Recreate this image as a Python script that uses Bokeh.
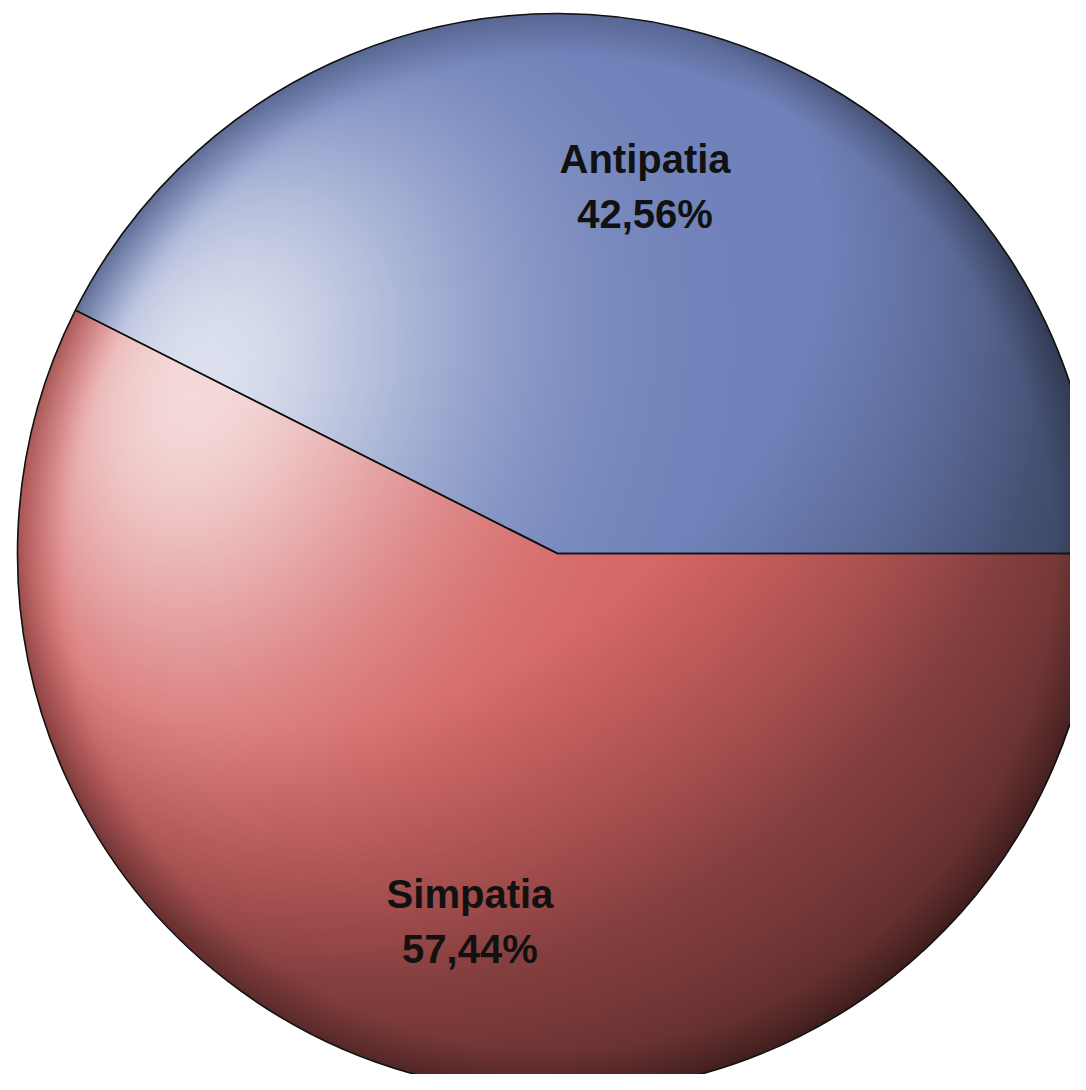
import numpy as np
from bokeh.plotting import figure
from bokeh.models import Range1d, ColumnDataSource
from bokeh.core.properties import value
from bokeh.embed import file_html
from bokeh.resources import INLINE

# ---- data ----
labels = ["Antipatia", "Simpatia"]
values = [42.56, 57.44]
pct_labels = ["42,56%", "57,44%"]
colors = ["#7082BA", "#D46464"]

# ---- layout ----
W, H = 1070, 1074
CX, CY = 557, 553          # pie centre in figure pixels (from left / from top)
R = 540

p = figure(width=W, height=H, x_range=Range1d(-CX, W - CX), y_range=Range1d(-(H - CY), CY),
           output_backend="svg", toolbar_location=None, min_border=0)
p.axis.visible = False
p.grid.visible = False
p.outline_line_color = None
p.background_fill_color = "white"
p.border_fill_color = "white"

vals = np.array(values, dtype=float)
cum = np.concatenate([[0.0], np.cumsum(vals)]) / vals.sum() * 2 * np.pi
starts, ends = cum[:-1], cum[1:]
mids = (starts + ends) / 2
lr = 0.70 * R
src = ColumnDataSource(dict(start=starts, end=ends, color=colors, label=labels, pct=pct_labels,
                            lx=lr * np.cos(mids), ly=lr * np.sin(mids)))

# base slices
p.wedge(x=0, y=0, radius=R, start_angle="start", end_angle="end", fill_color="color",
        line_color=None, source=src)

# sphere-like shading overlay (style only)
xs = (np.arange(W) - CX + 0.5) / R
ys = (np.arange(H) - (H - CY) + 0.5) / R
X, Y = np.meshgrid(xs, ys)
nx, ny = X, -Y
r2 = X ** 2 + Y ** 2
inside = r2 < 1.0
z = np.sqrt(np.clip(1 - r2, 0, 1))
l = np.array([-0.45, -0.6, 0.66]); l = l / np.linalg.norm(l)
d = nx * l[0] + ny * l[1] + z * l[2]
m = np.where(d > 0, 0.62 + 0.68 * d, 0.62 + 0.35 * d)
m = np.clip(m, 0, 1)
rr = np.sqrt(r2)
m = m * (1 - 0.22 * np.clip((rr - 0.92) / 0.08, 0, 1))
hv = np.array([-0.66, -0.32, 0.68]); hv = hv / np.linalg.norm(hv)
s = np.clip(nx * hv[0] + ny * hv[1] + z * hv[2], 0, 1) ** 6
w = 0.76 * s * (1 - 0.6 * np.clip((rr - 0.9) / 0.1, 0, 1))
a = 1 - m * (1 - w)
c = 255 * w / np.maximum(a, 1e-6)
a = np.where(inside, a, 0)
img = np.zeros((H, W, 4), dtype=np.uint8)
cc = np.clip(c, 0, 255).astype(np.uint8)
img[..., 0] = cc
img[..., 1] = cc
img[..., 2] = cc
img[..., 3] = np.clip(a * 255, 0, 255).astype(np.uint8)
p.image_rgba(image=[img.view(dtype=np.uint32).reshape((H, W))], x=-CX, y=-(H - CY), dw=W, dh=H)

# outlines
p.wedge(x=0, y=0, radius=R, start_angle="start", end_angle="end", fill_color=None,
        line_color="#111111", line_width=1.6, source=src)

# labels
p.text(x="lx", y="ly", text="label", source=src, text_align="center", text_baseline="middle",
       y_offset=-27, text_font=value("Liberation Sans"), text_font_style="bold",
       text_font_size="40px", text_color="#111111")
p.text(x="lx", y="ly", text="pct", source=src, text_align="center", text_baseline="middle",
       y_offset=28, text_font=value("Liberation Sans"), text_font_style="bold",
       text_font_size="40px", text_color="#111111")

open("out.html", "w").write(file_html(p, INLINE))
